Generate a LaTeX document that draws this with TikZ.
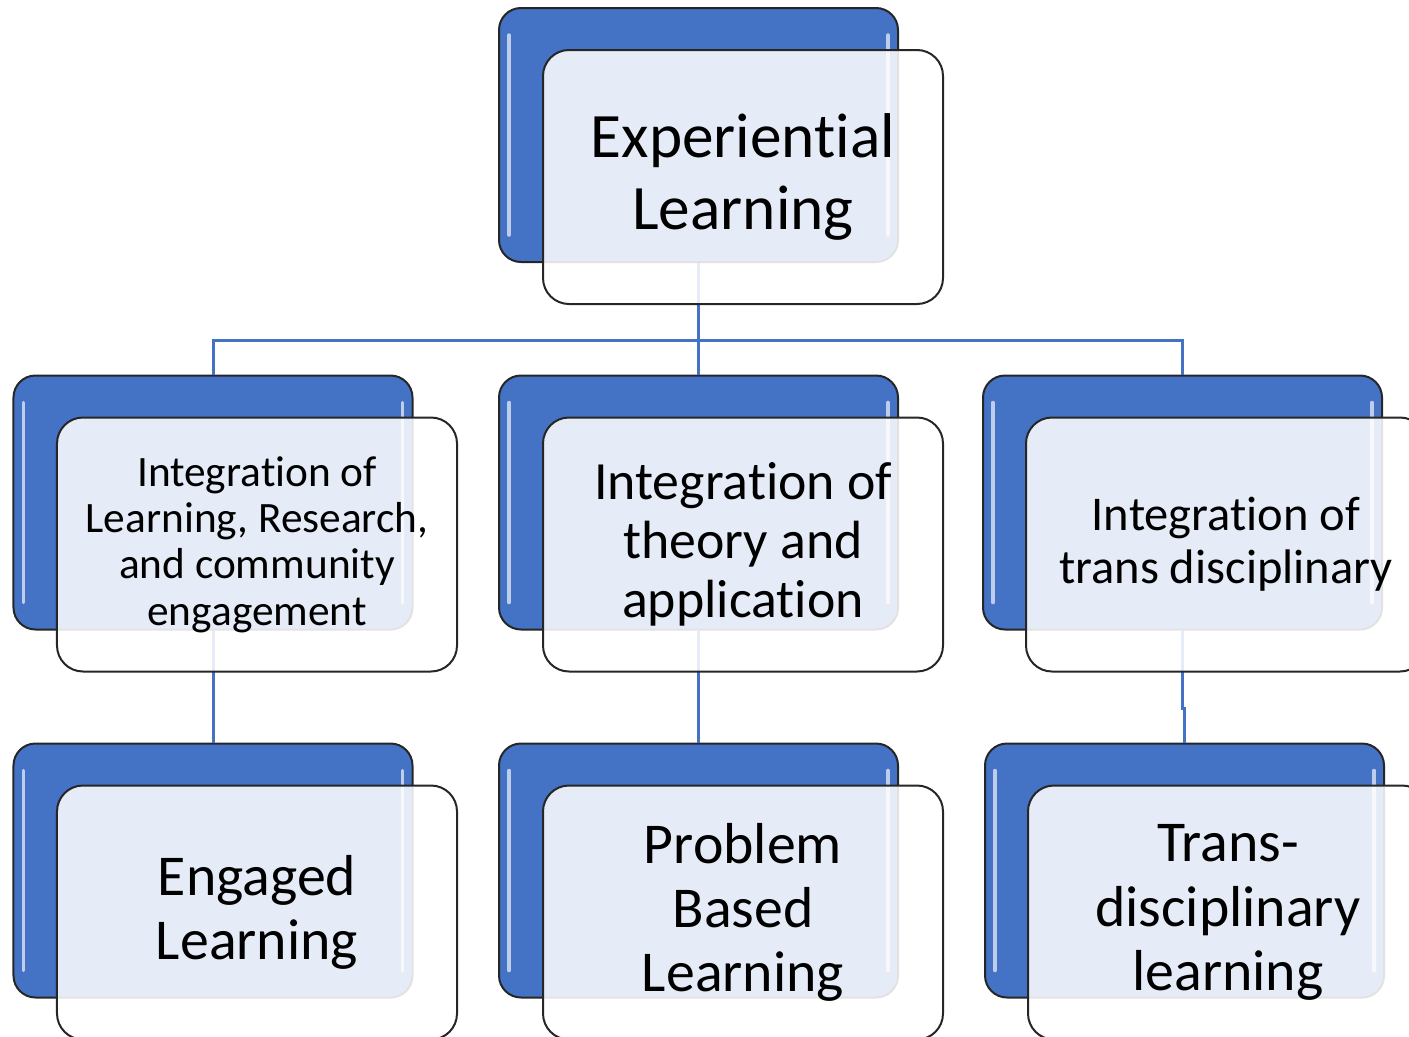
\documentclass[tikz,border=0pt]{standalone}
\usepackage{fontspec}
\setmainfont{Carlito}[RawFeature={-liga;-clig;-calt;-dlig}]
\definecolor{accent}{HTML}{4472C4}
\definecolor{edge}{HTML}{262626}
\begin{document}
\begin{tikzpicture}[x=1bp,y=-1bp,
  bluebox/.style={draw=edge, line width=2bp, fill=accent, rounded corners=22bp,
    minimum width=399bp, minimum height=254bp, inner sep=0pt},
  overbox/.style={draw=edge, line width=2bp, fill=white, fill opacity=0.87,
    draw opacity=1, text opacity=1, rounded corners=26bp,
    minimum width=400bp, minimum height=254bp, inner sep=0pt, align=center},
  conn/.style={draw=accent, line width=3bp},
  gloss/.style={draw=white, draw opacity=0.65, line width=3.5bp, line cap=round},
  fa/.style={font=\fontsize{63.5}{72}\selectfont},
  fb/.style={font=\fontsize{43.5}{46.5}\selectfont},
  fc/.style={font=\fontsize{54}{59}\selectfont},
  fd/.style={font=\fontsize{48.7}{53}\selectfont},
  fe/.style={font=\fontsize{58}{64.5}\selectfont}]
\useasboundingbox (0,0) rectangle (1409,1036);
\clip (0,0) rectangle (1409,1036);
% blue back boxes
\node[bluebox] (b0) at (698.5,135) {};
\node[bluebox] (b1) at (213,502.5) {};
\node[bluebox] (b2) at (698.5,502.5) {};
\node[bluebox] (b3) at (1182.5,502.5) {};
\node[bluebox] (c1) at (213,870.5) {};
\node[bluebox] (c2) at (698.5,870.5) {};
\node[bluebox] (c3) at (1184.5,870.5) {};
% glossy edges
\foreach \n in {b0,b1,b2,b3,c1,c2,c3}{
  \draw[gloss] ([xshift=11bp,yshift=-28bp]\n.north west) -- ([xshift=11bp,yshift=28bp]\n.south west);
  \draw[gloss] ([xshift=-11bp,yshift=-28bp]\n.north east) -- ([xshift=-11bp,yshift=28bp]\n.south east);
}
% connectors
\coordinate (hub) at (698.5,340);
\coordinate (jog) at (1182.5,708);
\draw[conn] (b0.south) -- (hub);
\draw[conn] (b1.north) |- (hub) -| (b3.north);
\draw[conn] (hub) -- (b2.north);
\draw[conn] (b1.south) -- (c1.north);
\draw[conn] (b2.south) -- (c2.north);
\draw[conn] (b3.south) -- (jog) -| (c3.north);
% overlay boxes with text
\node[overbox,fa] (o0) at (743,177) {Experiential\\Learning};
\node[overbox,fb] (p1) at (257,544.5) {Integration of\\Learning, Research,\\and community\\engagement};
\node[overbox,fc] (p2) at (743,544.5) {Integration of\\theory and\\application};
\node[overbox,fd] (p3) at (1226,544.5) {Integration of\\trans disciplinary};
\node[overbox,fe] (q1) at (257,912.5) {Engaged\\Learning};
\node[overbox,fe] (q2) at (743,912.5) {Problem\\Based\\Learning};
\node[overbox,fe] (q3) at (1228,912.5) {Trans-\\disciplinary\\learning};
\end{tikzpicture}
\end{document}
